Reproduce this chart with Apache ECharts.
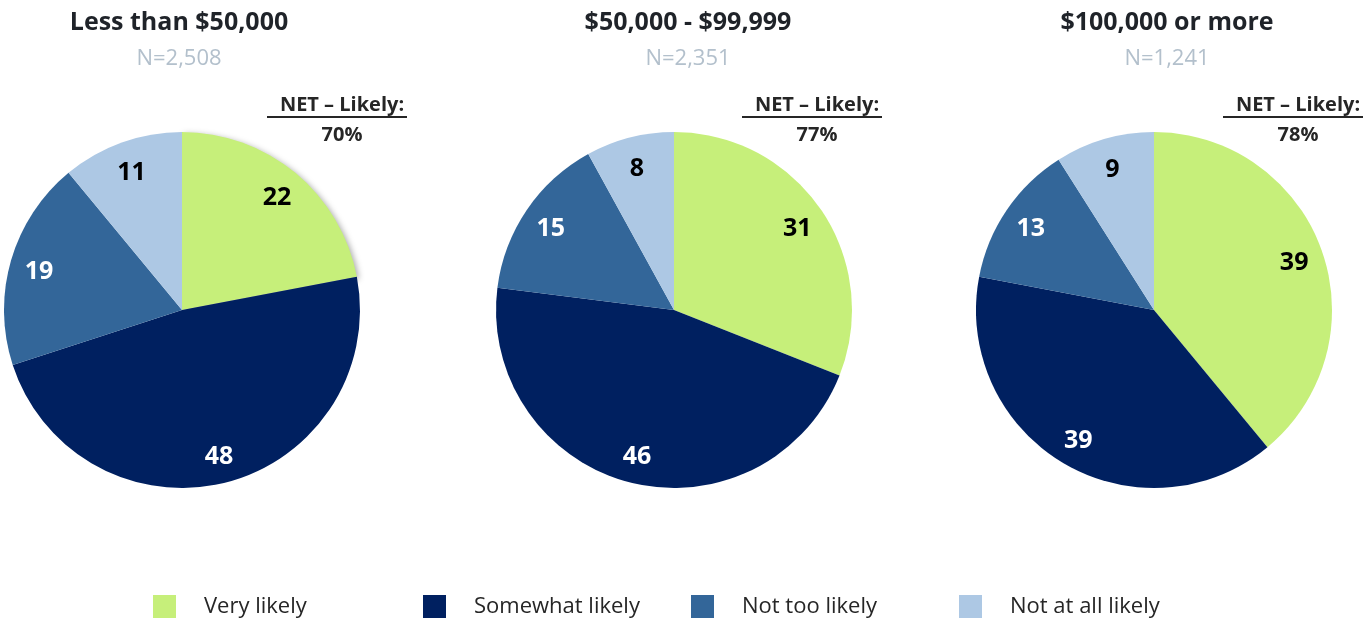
<!DOCTYPE html>
<html>
<head>
<meta charset="utf-8">
<script src="https://cdn.jsdelivr.net/npm/echarts@6/dist/echarts.min.js"></script>
<style>
  html, body { margin: 0; padding: 0; background: #fff; }
  #chart { width: 1364px; height: 618px; }
</style>
</head>
<body>
<div id="chart"></div>
<script>
// data
const categories = ['Very likely', 'Somewhat likely', 'Not too likely', 'Not at all likely'];
const groupTitles = ['Less than $50,000', '$50,000 - $99,999', '$100,000 or more'];
const groupN = ['N=2,508', 'N=2,351', 'N=1,241'];
const netLikely = ['70%', '77%', '78%'];
const lessThan50k = [22, 48, 19, 11];
const from50to100k = [31, 46, 15, 8];
const over100k = [39, 39, 13, 9];

const colors = ['#c6ef7a', '#002060', '#336699', '#adc8e4'];
const labelColors = ['#000000', '#ffffff', '#ffffff', '#000000'];
const FONT = '"Open Sans", sans-serif';

const chart = echarts.init(document.getElementById('chart'));

const groups = [lessThan50k, from50to100k, over100k];
const centers = [[182, 310], [674, 310], [1154, 310]];
const titleX = [174, 683, 1162];
const netX = [337, 812, 1293];
const R = 178;

const series = [];
groups.forEach((vals, g) => {
  // pie slices
  series.push({
    type: 'pie',
    center: centers[g],
    radius: [0, R],
    startAngle: 90,
    clockwise: true,
    silent: true,
    label: { show: false },
    labelLine: { show: false },
    data: vals.map((v, i) => ({
      name: categories[i],
      value: v,
      itemStyle: Object.assign(
        { color: colors[i] },
        g === 0 && i === 0 ? { shadowBlur: 6, shadowColor: 'rgba(0,0,0,0.35)', shadowOffsetX: 2, shadowOffsetY: 2 } : {}
      )
    }))
  });
  // transparent ring just to place the value labels near the rim
  series.push({
    type: 'pie',
    center: centers[g],
    radius: [R * 0.64, R],
    startAngle: 90,
    clockwise: true,
    silent: true,
    z: 3,
    labelLine: { show: false },
    data: vals.map((v, i) => ({
      name: categories[i] + ' ',
      value: v,
      itemStyle: { color: 'rgba(0,0,0,0)' },
      label: {
        show: true,
        position: 'inside',
        formatter: '{c}',
        color: labelColors[i],
        fontFamily: FONT,
        fontWeight: 'bold',
        fontSize: 25,
        offset: [0, 3]
      }
    }))
  });
});

const titles = [];
groups.forEach((vals, g) => {
  titles.push({
    text: groupTitles[g],
    left: titleX[g], top: 5, textAlign: 'center',
    textStyle: { fontFamily: FONT, fontWeight: 'bold', fontSize: 25, color: '#1f2329' }
  });
  titles.push({
    text: groupN[g],
    left: titleX[g], top: 43, textAlign: 'center',
    textStyle: { fontFamily: FONT, fontWeight: 'normal', fontSize: 22, color: '#b3c0cc' }
  });
  titles.push({
    text: 'NET \u2013 Likely:',
    left: netX[g], top: 90, textAlign: 'center',
    textStyle: { fontFamily: FONT, fontWeight: 'bold', fontSize: 20, color: '#262626' }
  });
  titles.push({
    text: netLikely[g],
    left: netX[g], top: 120, textAlign: 'center',
    textStyle: { fontFamily: FONT, fontWeight: 'bold', fontSize: 20, color: '#262626' }
  });
});

// underline for the NET labels
const graphic = netX.map(x => ({
  type: 'rect',
  shape: { x: x - 70, y: 116, width: 140, height: 2 },
  style: { fill: '#262626' },
  silent: true
}));

const legendLeft = [148, 418, 686, 954];
const legends = categories.map((c, i) => ({
  data: [c],
  left: legendLeft[i],
  top: 590,
  itemWidth: 23,
  itemHeight: 23,
  icon: 'rect',
  selectedMode: false,
  textStyle: { fontFamily: FONT, fontSize: 22, color: '#262626', padding: [0, 0, 0, 23] }
}));

chart.setOption({
  animation: false,
  color: colors,
  title: titles,
  legend: legends,
  graphic: graphic,
  series: series
});
</script>
</body>
</html>
